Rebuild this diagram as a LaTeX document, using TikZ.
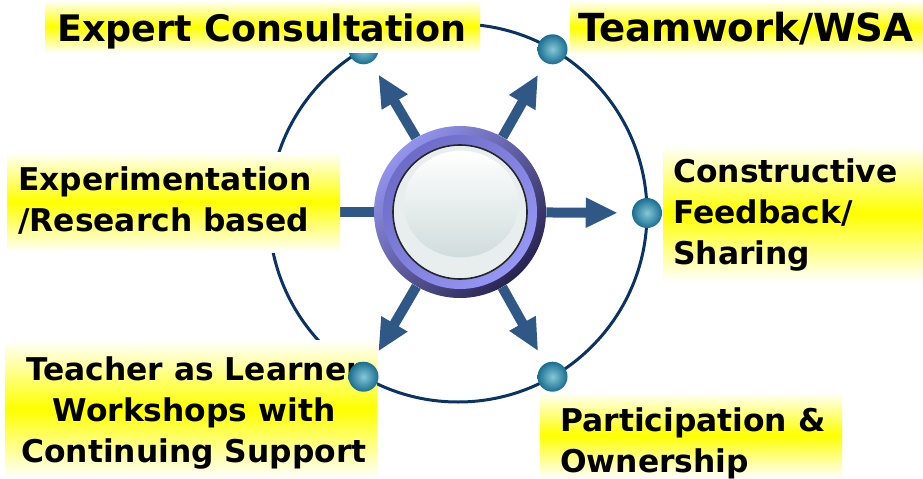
\documentclass[tikz,border=0pt]{standalone}
\usepackage{fontspec}
\setmainfont{DejaVu Sans}
\usetikzlibrary{arrows.meta}
\definecolor{navy}{RGB}{10,50,100}
\definecolor{arrowblue}{RGB}{47,88,135}
\definecolor{ballin}{RGB}{135,200,215}
\definecolor{ballout}{RGB}{25,110,145}
\definecolor{ringlight}{RGB}{148,148,238}
\definecolor{ringdark}{RGB}{40,36,80}
\definecolor{bandtl}{RGB}{110,108,200}
\definecolor{bandbr}{RGB}{150,150,245}
\definecolor{discbot}{RGB}{208,220,220}
\definecolor{discrim}{RGB}{232,238,238}
\begin{document}
\begin{tikzpicture}[x=0.75pt,y=-0.75pt,
  labelbox/.style={top color=white, bottom color=white, middle color=yellow},
  lbl/.style={font=\bfseries\fontsize{23.5}{30.75}\selectfont, inner sep=0pt, align=left, anchor=north west},
  ballnode/.style={circle, minimum size=22.5pt, inner sep=0pt, inner color=ballin, outer color=ballout},
  spoke/.style={draw=arrowblue, line width=7.5pt, -{Triangle[width=21pt,length=24pt]}, shorten >=10.5pt},
  shaft/.style={draw=arrowblue, line width=7.5pt}]
\useasboundingbox (0,0) rectangle (923,478);
% outer circle
\coordinate (C) at (458,213);
\draw[navy, line width=2.25pt] (C) circle[radius=141.75pt];
% hub
\node[circle, minimum size=129pt, inner sep=0pt] (hub) at (460,212) {};
% expert ball (under its label)
\node[ballnode] (bUL) at (363.5,49.3) {};
% left shaft
\coordinate (lend) at (330,212);
\draw[shaft] (hub) -- (lend);
% labels
\shade[labelbox] (45,0) rectangle (480,53);
\node[lbl, anchor=base west, font=\bfseries\fontsize{27.4}{32}\selectfont] (expert) at (57,42) {Expert Consultation};
\shade[labelbox] (570,0) rectangle (923,55);
\node[lbl, anchor=base west, font=\bfseries\fontsize{29}{34}\selectfont] (team) at (578,42) {Teamwork/WSA};
\shade[labelbox] (663,145) rectangle (923,282);
\node[lbl] (feedback) at (673,158) {Constructive\\Feedback/\\Sharing};
\shade[labelbox] (540,392) rectangle (842,478);
\node[lbl] (part) at (560,407) {Participation \&\\Ownership};
\shade[labelbox] (7,152) rectangle (340,252);
\node[lbl] (exper) at (18,166) {Experimentation\\/Research based};
\shade[labelbox] (5,340) rectangle (377,478);
\node[lbl, align=center, anchor=north] (teacher) at (194,356) {Teacher as Learner\\Workshops with\\Continuing Support};
% other balls
\node[ballnode] (bUR) at (552.5,49.3) {};
\node[ballnode] (bR) at (647,213) {};
\node[ballnode] (bLR) at (552.5,376.7) {};
\node[ballnode] (bLL) at (363.5,376.7) {};
% spokes
\draw[spoke] (hub) -- (bUL);
\draw[spoke] (hub) -- (bUR);
\draw[spoke] (hub) -- (bR);
\draw[spoke] (hub) -- (bLR);
\draw[spoke] (hub) -- (bLL);
% hub drawing
\shade[top color=ringlight, bottom color=ringdark, shading angle=45] (hub.center) circle[radius=64.5pt];
\shade[top color=bandtl, bottom color=bandbr, shading angle=45] (hub.center) circle[radius=57.75pt];
\filldraw[draw=black!85, line width=1.2pt, fill=discrim] (hub.center) circle[radius=50.25pt];
\shade[top color=white, bottom color=discbot] (461,204) ellipse[x radius=43pt, y radius=40pt];
\end{tikzpicture}
\end{document}
